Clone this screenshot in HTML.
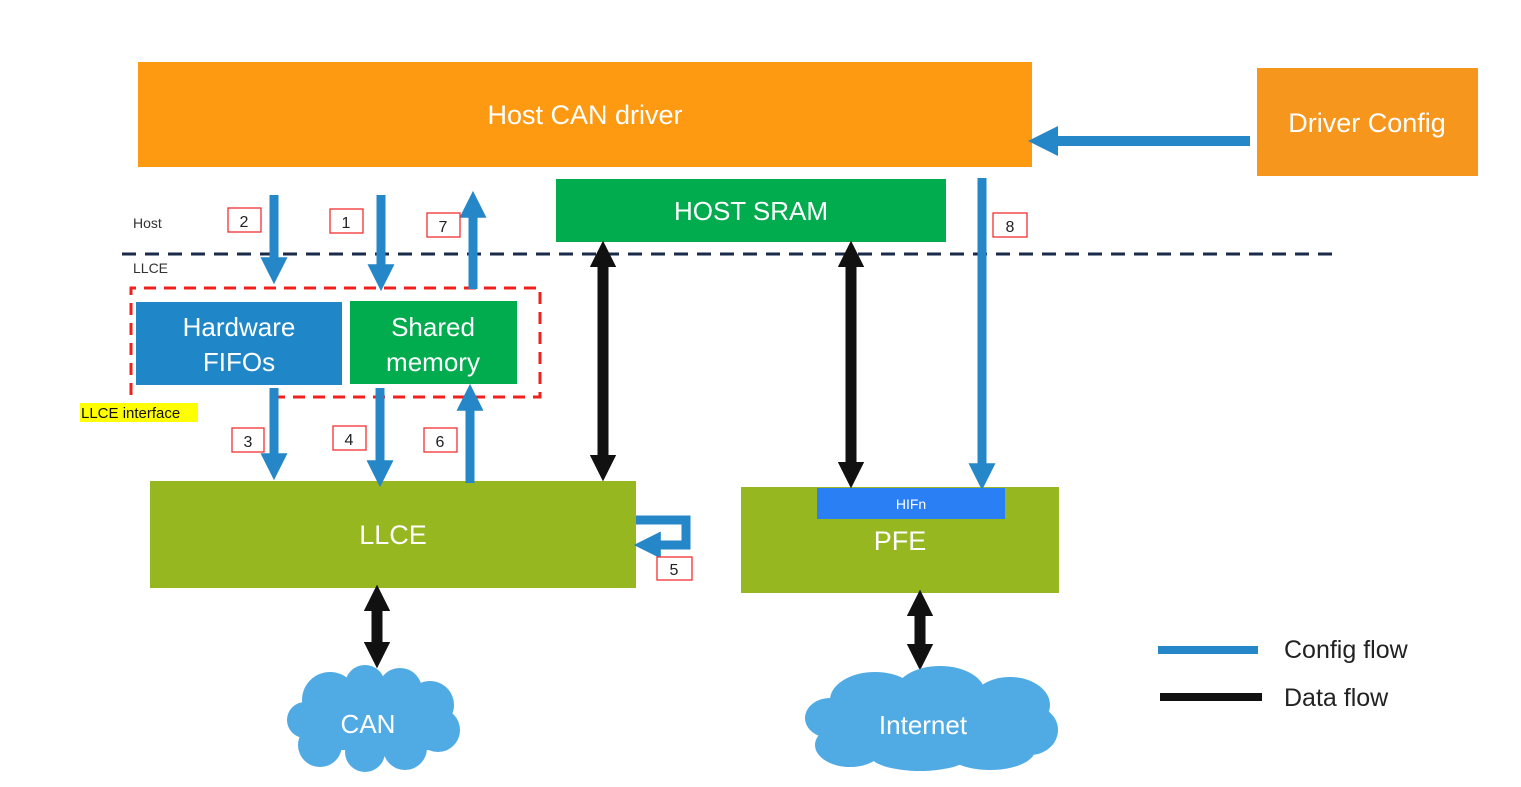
<!DOCTYPE html>
<html><head><meta charset="utf-8"><style>
html,body{margin:0;padding:0;background:#fff}
svg{display:block}
text{font-family:"Liberation Sans",sans-serif}
</style></head><body>
<svg width="1521" height="787" viewBox="0 0 1521 787" xmlns="http://www.w3.org/2000/svg">
<defs>
<marker id="bh" markerWidth="3" markerHeight="3" refX="1.2" refY="1.5" orient="auto" markerUnits="strokeWidth"><path d="M0,0 L3,1.5 L0,3z" fill="#2587c8"/></marker>
<marker id="kh" markerWidth="2.4" markerHeight="2.4" refX="1" refY="1.2" orient="auto-start-reverse" markerUnits="strokeWidth"><path d="M0,0 L2.4,1.2 L0,2.4z" fill="#111"/></marker>
</defs>
<rect x="138" y="62" width="894" height="105" fill="#fd9a12"/>
<text x="585" y="124" font-size="27" fill="#fff" text-anchor="middle">Host CAN driver</text>
<rect x="1257" y="68" width="221" height="108" fill="#f7961c"/>
<text x="1367" y="132" font-size="27" fill="#fff" text-anchor="middle">Driver Config</text>
<line x1="1250" y1="141" x2="1046" y2="141" stroke="#2587c8" stroke-width="10" marker-end="url(#bh)"/>
<rect x="556" y="179" width="390" height="63" fill="#00ac4e"/>
<text x="751" y="220" font-size="26" fill="#fff" text-anchor="middle">HOST SRAM</text>
<line x1="122" y1="254" x2="1340" y2="254" stroke="#1a2a4a" stroke-width="3" stroke-dasharray="14,9"/>
<text x="133" y="228" font-size="14" fill="#333">Host</text>
<text x="133" y="273" font-size="14" fill="#333">LLCE</text>
<path d="M131,395 L131,288 L540,288 L540,397 L270,397" fill="none" stroke="#f0201e" stroke-width="3" stroke-dasharray="12,8"/>
<rect x="136" y="302" width="206" height="83" fill="#1f87c8"/>
<text x="239" y="336" font-size="26" fill="#fff" text-anchor="middle">Hardware</text>
<text x="239" y="371" font-size="26" fill="#fff" text-anchor="middle">FIFOs</text>
<rect x="350" y="301" width="167" height="83" fill="#00ac4e"/>
<text x="433" y="336" font-size="26" fill="#fff" text-anchor="middle">Shared</text>
<text x="433" y="371" font-size="26" fill="#fff" text-anchor="middle">memory</text>
<rect x="80" y="403" width="118" height="19" fill="#ffff00"/>
<text x="81" y="418" font-size="15" fill="#111">LLCE interface</text>
<rect x="150" y="481" width="486" height="107" fill="#97b720"/>
<text x="393" y="544" font-size="27" fill="#fff" text-anchor="middle">LLCE</text>
<rect x="741" y="487" width="318" height="106" fill="#97b720"/>
<rect x="817" y="488" width="188" height="31" fill="#2a7ff5"/>
<text x="911" y="509" font-size="14" fill="#fff" text-anchor="middle">HIFn</text>
<text x="900" y="550" font-size="27" fill="#fff" text-anchor="middle">PFE</text>
<g stroke="#2587c8" stroke-width="9" fill="none">
<line x1="274" y1="195" x2="274" y2="268" marker-end="url(#bh)"/>
<line x1="381" y1="195" x2="381" y2="275" marker-end="url(#bh)"/>
<line x1="473" y1="289" x2="473" y2="207" marker-end="url(#bh)"/>
<line x1="274" y1="388" x2="274" y2="464" marker-end="url(#bh)"/>
<line x1="380" y1="388" x2="380" y2="471" marker-end="url(#bh)"/>
<line x1="470" y1="483" x2="470" y2="400" marker-end="url(#bh)"/>
<line x1="982" y1="178" x2="982" y2="474" marker-end="url(#bh)"/>
<path d="M636,520 L686,520 L686,545 L650,545" marker-end="url(#bh)"/>
</g>
<g stroke="#111" stroke-width="11">
<line x1="603" y1="256" x2="603" y2="466" marker-start="url(#kh)" marker-end="url(#kh)"/>
<line x1="851" y1="256" x2="851" y2="473" marker-start="url(#kh)" marker-end="url(#kh)"/>
<line x1="377" y1="600" x2="377" y2="653" marker-start="url(#kh)" marker-end="url(#kh)"/>
<line x1="920" y1="605" x2="920" y2="655" marker-start="url(#kh)" marker-end="url(#kh)"/>
</g>
<g fill="#fff" stroke="#f03030" stroke-width="1.3" font-size="15">
<rect x="228" y="208" width="33" height="24"/><rect x="330" y="209" width="33" height="24"/>
<rect x="427" y="213" width="33" height="24"/><rect x="232" y="428" width="32" height="24"/>
<rect x="333" y="426" width="33" height="24"/><rect x="424" y="428" width="33" height="24"/>
<rect x="657" y="557" width="35" height="23"/><rect x="993" y="213" width="34" height="24"/>
</g>
<g font-size="16" fill="#222" text-anchor="middle">
<text x="244" y="227">2</text><text x="346" y="228">1</text><text x="443" y="232">7</text>
<text x="248" y="447">3</text><text x="349" y="445">4</text><text x="440" y="447">6</text>
<text x="674" y="575">5</text><text x="1010" y="232">8</text>
</g>
<g fill="#50abe4">
<circle cx="330" cy="700" r="28"/><circle cx="365" cy="685" r="20"/><circle cx="400" cy="690" r="22"/>
<circle cx="430" cy="705" r="24"/><circle cx="438" cy="730" r="22"/><circle cx="405" cy="748" r="22"/>
<circle cx="365" cy="752" r="20"/><circle cx="320" cy="745" r="22"/><circle cx="305" cy="720" r="18"/>
<rect x="305" y="690" width="130" height="60"/>
<ellipse cx="875" cy="700" rx="45" ry="28"/><ellipse cx="940" cy="693" rx="45" ry="27"/><ellipse cx="1010" cy="705" rx="40" ry="28"/>
<ellipse cx="1030" cy="730" rx="28" ry="25"/><ellipse cx="990" cy="750" rx="45" ry="20"/><ellipse cx="920" cy="755" rx="50" ry="16"/>
<ellipse cx="850" cy="745" rx="35" ry="22"/><ellipse cx="830" cy="718" rx="25" ry="20"/>
<rect x="830" y="700" width="200" height="50"/>
</g>
<text x="368" y="733" font-size="26" fill="#fff" text-anchor="middle">CAN</text>
<text x="923" y="734" font-size="26" fill="#fff" text-anchor="middle">Internet</text>
<line x1="1158" y1="650" x2="1258" y2="650" stroke="#2587c8" stroke-width="8"/>
<line x1="1160" y1="697" x2="1262" y2="697" stroke="#111" stroke-width="8"/>
<text x="1284" y="658" font-size="25" fill="#222">Config flow</text>
<text x="1284" y="706" font-size="25" fill="#222">Data flow</text>
</svg>
</body></html>
